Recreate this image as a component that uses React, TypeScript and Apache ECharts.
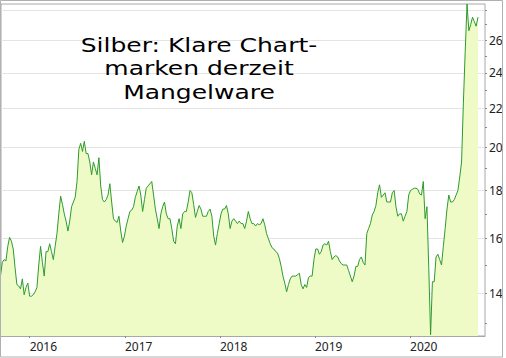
import React, { useEffect, useRef } from 'react';
import * as echarts from 'echarts';

// Weekly closing prices of silver (USD/oz), one value per week starting at firstWeek
const firstWeek = '2015-09-11';
const silverWeekly = [
  14.6, 15.1, 15.2, 15.15, 15.7, 16.05, 15.9, 15.6, 14.9, 14.3,
  14.25, 14.15, 14.5, 13.95, 14.2, 14.35, 13.9, 13.9, 13.95, 14.05,
  14.2, 15.0, 15.7, 15.1, 14.6, 15.5, 15.5, 15.8, 15.5, 15.2,
  15.7, 16.2, 17.0, 17.75, 17.4, 17.0, 16.7, 16.3, 16.7, 17.3,
  17.5, 17.7, 18.4, 19.9, 20.2, 19.8, 20.3, 19.7, 19.7, 19.3,
  18.7, 19.3, 19.0, 18.7, 19.5, 18.2, 17.6, 17.5, 17.6, 17.8,
  18.3, 17.5, 16.8, 16.7, 16.65, 16.9, 16.3, 15.85, 16.1, 16.5,
  16.8, 17.1, 17.15, 17.3, 17.7, 17.95, 18.2, 17.8, 17.1, 17.6,
  18.1, 18.2, 18.3, 18.4, 17.8, 17.2, 16.8, 16.4, 17.0, 17.3,
  17.5, 17.0, 16.8, 16.8, 16.4, 15.9, 15.8, 16.5, 16.8, 16.4,
  17.0, 17.1, 17.1, 17.5, 18.0, 17.9, 17.4, 16.85, 17.1, 17.35,
  17.2, 16.9, 16.9, 16.9, 17.1, 17.2, 16.9, 16.1, 15.75, 16.2,
  16.6, 17.0, 17.2, 17.2, 17.35, 17.0, 16.4, 16.7, 16.8, 16.7,
  16.6, 16.7, 16.6, 16.6, 16.4, 16.7, 17.1, 16.8, 16.6, 16.6,
  16.5, 16.6, 16.55, 16.6, 16.8, 16.55, 16.2, 16.0, 15.8, 15.65,
  15.6, 15.5, 15.45, 15.25, 14.95, 14.6, 14.35, 14.05, 14.3, 14.5,
  14.6, 14.6, 14.6, 14.65, 14.7, 14.3, 14.15, 14.3, 14.2, 14.55,
  14.6, 14.6, 15.2, 15.6, 15.6, 15.4, 15.5, 15.75, 15.8, 15.75,
  15.9, 15.5, 15.2, 15.3, 15.35, 15.3, 15.15, 15.05, 15.0, 15.0,
  15.0, 14.8, 14.6, 14.4, 14.6, 14.95, 14.95, 15.2, 15.3, 15.1,
  15.0, 16.2, 16.4, 16.6, 16.95, 17.1, 17.35, 17.9, 18.25, 17.7,
  17.8, 17.9, 17.5, 17.5, 17.5, 17.9, 18.0, 17.3, 16.9, 17.0,
  17.0, 16.7, 16.9, 17.1, 17.8, 18.0, 18.05, 18.1, 18.1, 18.05,
  17.85, 17.8, 18.4, 16.8, 17.3, 14.9, 12.65, 14.4, 14.4, 15.3,
  15.4, 15.2, 15.0, 15.7, 16.4, 17.2, 17.8, 17.5, 17.5, 17.6,
  17.8, 18.0, 18.6, 19.3, 22.3, 25.3, 28.4, 26.6, 27.0, 27.5,
  27.2, 26.9, 27.5,
];

const yearTicks = ['2016-01-01', '2017-01-01', '2018-01-01', '2019-01-01', '2020-01-01'];
const yLabelValues = [14, 16, 18, 20, 22, 24, 26];
const yGridValues = [14, 16, 18, 20, 22, 24, 26, 28];
const yMinorValues = [13, 15, 17, 19, 21, 23, 25, 27];
const titleLines = ['Silber: Klare Chart-', 'marken derzeit', 'Mangelware'];

const xRange = ['2015-09-13', '2020-10-15'];
const yRange = [12.61, 28.4];

const utc = (d: string) => Date.parse(d + 'T00:00:00Z');
const WEEK = 7 * 24 * 3600 * 1000;

export default function App() {
  const ref = useRef<HTMLDivElement>(null);

  useEffect(() => {
    if (!ref.current) return;
    const chart = echarts.init(ref.current, null, { renderer: 'svg' });
    const t0 = utc(firstWeek);
    // log scale: values are plotted as their natural logarithm on a value axis
    const data = silverWeekly.map((v, i) => [t0 + i * WEEK, Math.log(v)]);
    const yearTs = yearTicks.map(utc);
    const font = 'Noto Sans';

    const yAxisBase = {
      type: 'value' as const,
      position: 'right' as const,
      min: Math.log(yRange[0]),
      max: Math.log(yRange[1]),
      axisLine: { show: false },
    };

    const titleLineGap = 23.5;
    const titleElements = titleLines.map((line, i) => ({
      type: 'text',
      x: 199,
      y: 68 + (i - 1) * titleLineGap,
      scaleX: 1.25,
      style: {
        text: line,
        fill: '#000',
        font: '20px "DejaVu Sans"',
        align: 'center',
        verticalAlign: 'middle',
      },
      z: 100,
    }));

    chart.setOption({
      animation: false,
      backgroundColor: '#ffffff',
      grid: {
        left: 1,
        top: 4,
        right: 21,
        bottom: 22,
        show: true,
        borderColor: '#a8a8a8',
        borderWidth: 1,
        backgroundColor: 'transparent',
      },
      xAxis: {
        type: 'value',
        min: utc(xRange[0]),
        max: utc(xRange[1]),
        axisLine: { show: true, lineStyle: { color: '#a8a8a8' } },
        axisTick: {
          show: true,
          length: 2,
          customValues: yearTs,
          lineStyle: { color: '#888' },
        },
        axisLabel: {
          customValues: yearTs,
          formatter: (v: number) => String(new Date(v).getUTCFullYear()),
          align: 'left',
          margin: 4,
          fontSize: 12,
          fontFamily: font,
          color: '#222',
        },
        splitLine: { show: false },
      },
      yAxis: [
        {
          ...yAxisBase,
          axisTick: {
            show: true,
            length: 2,
            customValues: yGridValues.map(Math.log),
            lineStyle: { color: '#888' },
          },
          axisLabel: {
            customValues: yLabelValues.map(Math.log),
            formatter: (v: number) => String(Math.round(Math.exp(v))),
            margin: 4,
            fontSize: 12,
            fontFamily: font,
            color: '#222',
          },
          splitLine: { show: true, lineStyle: { color: '#e4e4e4', width: 1 } },
        },
        {
          ...yAxisBase,
          axisTick: {
            show: true,
            length: 2,
            customValues: yMinorValues.map(Math.log),
            lineStyle: { color: '#888' },
          },
          axisLabel: { show: false },
          splitLine: { show: false },
        },
      ],
      series: [
        {
          type: 'line',
          data,
          showSymbol: false,
          symbol: 'none',
          lineStyle: { color: '#2e9a2e', width: 1 },
          areaStyle: { color: '#effbc6', opacity: 1, origin: 'start' },
          z: 2,
        },
      ],
      graphic: [
        {
          type: 'rect',
          shape: { x: 0.5, y: 0.5, width: 502, height: 356.5 },
          style: { fill: 'none', stroke: '#b0b0b0', lineWidth: 1 },
          silent: true,
          z: 100,
        },
        ...titleElements,
      ],
    });
    return () => chart.dispose();
  }, []);

  return (
    <div
      ref={ref}
      style={{ position: 'fixed', left: 0, top: 0, width: 506, height: 358 }}
    />
  );
}
